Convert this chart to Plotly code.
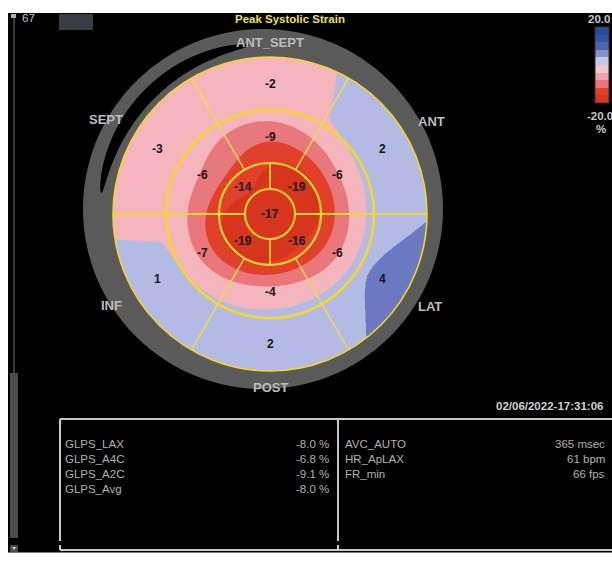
import numpy as np
import plotly.graph_objects as go

# ---------------- data ----------------
title_text = "Peak Systolic Strain"
basal_walls = ["ANT_SEPT", "ANT", "LAT", "POST", "INF", "SEPT"]
basal_strain = [-2, 2, 4, 2, 1, -3]
mid_strain = [-9, -6, -6, -4, -7, -6]
apical_walls = ["ANT", "SEPT", "INF", "LAT"]
apical_strain = [-19, -14, -19, -16]
apex_strain = -17
colorbar_limits = [-20.0, 20.0]
colorbar_unit = "%"
glps_labels = ["GLPS_LAX", "GLPS_A4C", "GLPS_A2C", "GLPS_Avg"]
glps_values = [-8.0, -6.8, -9.1, -8.0]
info_labels = ["AVC_AUTO", "HR_ApLAX", "FR_min"]
info_values = [365, 61, 66]
info_units = ["msec", "bpm", "fps"]
study_time = "02/06/2022-17:31:06"
frame_label = "67"

# ---------------- layout constants (pixels) ----------------
W, H = 612, 567
CX, CY = 270.0, 214.0
R_APEX, R_APICAL, R_MID, R_BASAL = 25.0, 51.0, 104.0, 157.0
SIX_ANG = [90, 30, -30, -90, -150, 150]
FOUR_ANG = [45, 135, 225, 315]
LBL_R = {"basal": 130.0, "mid": 77.5, "apical": 38.0}
KNOT_R = [0.0, 38.0, 77.5, 115.0]
EDGE_SLOPE = 0.05
WALL_LABEL_R = [172, 186, 185, 173, 183, 189]
FONT = "Liberation Sans, Arial, sans-serif"
YEL = "#f4d62c"


def ring_spline(angles, values, theta):
    """periodic Catmull-Rom interpolation of ring values along the angle"""
    a = np.mod(np.array(angles, float), 360)
    v = np.array(values, float)
    o = np.argsort(a)
    a, v = a[o], v[o]
    n = len(a)
    step = 360.0 / n
    th = np.mod(theta - a[0], 360)
    k = np.floor(th / step).astype(int) % n
    t = (th - k * step) / step
    v0, v1 = v[(k - 1) % n], v[k]
    v2, v3 = v[(k + 1) % n], v[(k + 2) % n]
    m1, m2 = (v2 - v0) / 2, (v3 - v1) / 2
    return ((2 * t**3 - 3 * t**2 + 1) * v1 + (t**3 - 2 * t**2 + t) * m1
            + (-2 * t**3 + 3 * t**2) * v2 + (t**3 - t**2) * m2)


# strain field over the bullseye, built from the segment values
xs = np.arange(106.0, 436.0, 1.5)
ys = np.arange(50.0, 380.0, 1.5)
XX, YY = np.meshgrid(xs, ys)
DX, DY = XX - CX, CY - YY
RR = np.hypot(DX, DY)
TH = np.degrees(np.arctan2(DY, DX))
V = [np.full_like(RR, float(apex_strain)),
     ring_spline(FOUR_ANG, apical_strain, TH),
     ring_spline(SIX_ANG, mid_strain, TH),
     ring_spline(SIX_ANG, basal_strain, TH)]
R = KNOT_R
M = [np.zeros_like(RR),
     (V[2] - V[0]) / (R[2] - R[0]),
     (V[3] - V[1]) / (R[3] - R[1]),
     EDGE_SLOPE * (V[3] - V[2]) / (R[3] - R[2])]
Z = V[3] + M[3] * (RR - R[3])
for i in range(2, -1, -1):
    h = R[i + 1] - R[i]
    t = np.clip((RR - R[i]) / h, 0, 1)
    seg = ((2 * t**3 - 3 * t**2 + 1) * V[i] + (t**3 - 2 * t**2 + t) * h * M[i]
           + (-2 * t**3 + 3 * t**2) * V[i + 1] + (t**3 - t**2) * h * M[i + 1])
    Z = np.where(RR <= R[i + 1], seg, Z)
Z = np.round(Z, 2)


def stepped(bounds, colors, lo, hi):
    cs = []
    edges = [lo] + bounds + [hi]
    for i, c in enumerate(colors):
        cs.append([(edges[i] - lo) / (hi - lo), c])
        cs.append([(edges[i + 1] - lo) / (hi - lo), c])
    return cs


lo, hi = colorbar_limits
field_scale = stepped([-15, -10, -5.5, 0, 3.8],
                      ["#d8351e", "#e1412b", "#e8787c", "#f4b5bd", "#b3bbe4", "#6a79c2"], lo, hi)
bar_scale = stepped([-16, -12, -8, -4, 0, 4, 8, 12, 16],
                    ["#de3520", "#e2402a", "#ec7476", "#f2a2aa", "#f3c6cc",
                     "#c4c9ec", "#8592cd", "#4d64b3", "#3354a6", "#2b4c9e"], lo, hi)

fig = go.Figure()
fig.add_trace(go.Contour(
    x=xs, y=ys, z=Z, colorscale=field_scale, zmin=lo, zmax=hi,
    autocontour=False, contours=dict(start=lo, end=hi, size=0.5, coloring="fill", showlines=False),
    line=dict(width=0, smoothing=1.3), showscale=False, hoverinfo="skip"))
fig.add_trace(go.Scatter(
    x=[CX, CX], y=[CY, CY], mode="markers", hoverinfo="skip", showlegend=False,
    marker=dict(size=1, opacity=0, color=colorbar_limits, cmin=lo, cmax=hi, colorscale=bar_scale,
                showscale=True,
                colorbar=dict(x=595 / W, xanchor="left", y=1 - 27 / H, yanchor="top",
                              len=76 / H, lenmode="fraction", thickness=14, thicknessmode="pixels",
                              outlinewidth=1, outlinecolor="#333333", showticklabels=False,
                              ticks="", xpad=0, ypad=0))))


def circ_pts(cx, cy, r, n=240):
    t = np.linspace(0, 2 * np.pi, n, endpoint=False)
    return list(zip(cx + r * np.cos(t), cy - r * np.sin(t)))


def path_of(pts):
    return "M" + " L".join(f"{x:.2f},{y:.2f}" for x, y in pts) + " Z"


shapes = []
shapes.append(dict(type="rect", x0=8, y0=13, x1=W + 2, y1=552.5, fillcolor="black",
                   line=dict(width=0), layer="below"))
rect = [(100, 44), (440, 44), (440, 384), (100, 384)]
shapes.append(dict(type="path", path=path_of(rect) + " " + path_of(circ_pts(CX, CY, R_BASAL)),
                   fillcolor="black", line=dict(width=0), layer="above"))
shapes.append(dict(type="path", path=path_of(circ_pts(263, 209, 180)) + " " + path_of(circ_pts(CX, CY, R_BASAL)),
                   fillcolor="#5a5a5a", line=dict(width=0), layer="above"))
th = np.linspace(97, 173, 90)
w = 6.5 * np.sin(np.pi * (th - 97) / 76) ** 0.5
outer = [(CX + (170 + wi) * np.cos(np.radians(a)), CY - (170 + wi) * np.sin(np.radians(a))) for a, wi in zip(th, w)]
inner = [(CX + (170 - wi) * np.cos(np.radians(a)), CY - (170 - wi) * np.sin(np.radians(a))) for a, wi in zip(th[::-1], w[::-1])]
shapes.append(dict(type="path", path=path_of(outer + inner), fillcolor="black", line=dict(width=0), layer="above"))

for r, lw in [(R_BASAL, 1.6), (R_MID, 2.6), (R_APICAL, 2.2), (R_APEX, 2.0)]:
    shapes.append(dict(type="circle", x0=CX - r, x1=CX + r, y0=CY - r, y1=CY + r,
                       line=dict(color=YEL, width=lw), layer="above"))
for a in [0, 180]:
    c, s = np.cos(np.radians(a)), np.sin(np.radians(a))
    shapes.append(dict(type="line", x0=CX + R_APEX * c, y0=CY - R_APEX * s, x1=CX + R_BASAL * c,
                       y1=CY - R_BASAL * s, line=dict(color=YEL, width=2.0), layer="above"))
for a in [90, 270]:
    c, s = np.cos(np.radians(a)), np.sin(np.radians(a))
    shapes.append(dict(type="line", x0=CX + R_APEX * c, y0=CY - R_APEX * s, x1=CX + R_APICAL * c,
                       y1=CY - R_APICAL * s, line=dict(color=YEL, width=1.8), layer="above"))
for a in [60, 120, 240, 300]:
    c, s = np.cos(np.radians(a)), np.sin(np.radians(a))
    shapes.append(dict(type="line", x0=CX + R_APICAL * c, y0=CY - R_APICAL * s, x1=CX + R_BASAL * c,
                       y1=CY - R_BASAL * s, line=dict(color="#f2d84e", width=1.5), layer="above"))

shapes += [
    dict(type="rect", x0=59, y0=14, x1=93, y1=30, fillcolor="#3b3d46", line=dict(width=0), layer="above"),
    dict(type="rect", x0=11, y0=14, x1=16, y1=18, fillcolor="#b0b0b0", line=dict(width=0), layer="above"),
    dict(type="line", x0=14, y0=18, x1=14, y1=373, line=dict(color="#3a3a3a", width=2), layer="above"),
    dict(type="rect", x0=10, y0=373, x1=18, y1=538, fillcolor="#4c4c4c", line=dict(width=0), layer="above"),
    dict(type="rect", x0=10, y0=545, x1=18, y1=552, fillcolor="#4a4a4a", line=dict(width=0), layer="above"),
    dict(type="path", path="M12,547 L16,547 L14,550 Z", fillcolor="#d0d0d0", line=dict(width=0), layer="above"),
]
PL = dict(color="#c8c8c8", width=2)
shapes += [
    dict(type="line", x0=60, y0=419, x1=W + 2, y1=419, line=PL, layer="above"),
    dict(type="line", x0=60, y0=419, x1=60, y1=541, line=PL, layer="above"),
    dict(type="line", x0=338, y0=419, x1=338, y1=541, line=PL, layer="above"),
    dict(type="line", x0=60, y0=545, x1=60, y1=550, line=PL, layer="above"),
    dict(type="line", x0=338, y0=545, x1=338, y1=550, line=PL, layer="above"),
    dict(type="line", x0=60, y0=550, x1=W + 2, y1=550, line=PL, layer="above"),
]

ann = []


def txt(x, y, s, size, color, xa="center", bold=False):
    ann.append(dict(x=x, y=y, xref="x", yref="y", text=(f"<b>{s}</b>" if bold else s),
                    showarrow=False, xanchor=xa, yanchor="middle",
                    font=dict(family=FONT, size=size, color=color)))


def polar_xy(r, a):
    return CX + r * np.cos(np.radians(a)), CY - r * np.sin(np.radians(a))


for a, v in zip(SIX_ANG, basal_strain):
    txt(*polar_xy(LBL_R["basal"], a), str(v), 12, "#161616", bold=True)
for a, v in zip(SIX_ANG, mid_strain):
    txt(*polar_xy(LBL_R["mid"], a), str(v), 12, "#161616", bold=True)
for a, v in zip(FOUR_ANG, apical_strain):
    txt(*polar_xy(LBL_R["apical"], a), str(v), 12, "#161616", bold=True)
txt(CX, CY, str(apex_strain), 12, "#161616", bold=True)

for a, r, name in zip(SIX_ANG, WALL_LABEL_R, basal_walls):
    txt(*polar_xy(r, a), name, 13, "#bdbdbd", bold=True)

txt(290, 19, title_text, 11.5, "#f2e33c", bold=True)
txt(20, 18, frame_label, 11.5, "#c4c4c4", xa="left")
txt(586, 19, f"{colorbar_limits[1]:.1f}", 11.5, "#c8c8c8", xa="left", bold=True)
txt(585, 116, f"{colorbar_limits[0]:.1f}", 11.5, "#c8c8c8", xa="left", bold=True)
txt(601, 129, colorbar_unit, 11.5, "#c8c8c8", bold=True)
txt(494, 406, study_time, 11.5, "#d0d0d0", xa="left", bold=True)

row_y = [444, 459, 474, 489]
for y, lab, val in zip(row_y, glps_labels, glps_values):
    txt(63, y, lab, 11.5, "#b0b0b0", xa="left")
    txt(331, y, f"{val:.1f} %", 11.5, "#b0b0b0", xa="right")
for y, lab, val, u in zip(row_y, info_labels, info_values, info_units):
    txt(343, y, lab, 11.5, "#b0b0b0", xa="left")
    txt(607, y, f"{val} {u}", 11.5, "#b0b0b0", xa="right")

fig.update_layout(
    width=W, height=H, margin=dict(l=0, r=0, t=0, b=0, pad=0),
    paper_bgcolor="white", plot_bgcolor="white", showlegend=False,
    xaxis=dict(range=[0, W], visible=False, fixedrange=True),
    yaxis=dict(range=[H, 0], visible=False, fixedrange=True),
    shapes=shapes, annotations=ann,
)
fig.write_html("out.html")
